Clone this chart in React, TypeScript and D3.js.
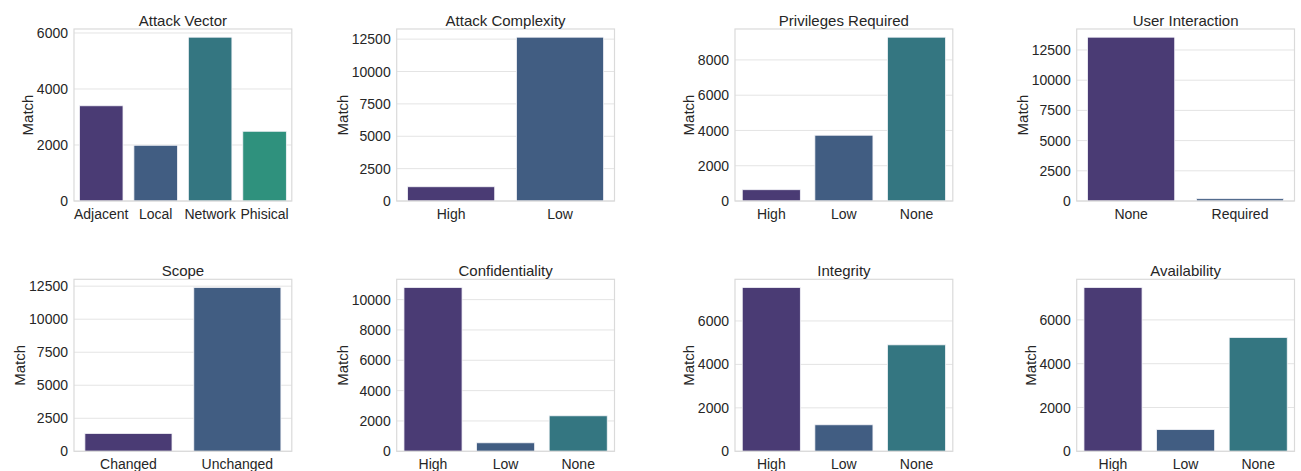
import { useEffect } from 'react'
import * as d3 from 'd3'

// CVSS metric counts
const attackVectorCats = ['Adjacent', 'Local', 'Network', 'Phisical']
const attackVectorValues = [3400, 1990, 5850, 2490]
const attackVectorTicks = [0, 2000, 4000, 6000]

const attackComplexityCats = ['High', 'Low']
const attackComplexityValues = [1100, 12650]
const attackComplexityTicks = [0, 2500, 5000, 7500, 10000, 12500]

const privilegesCats = ['High', 'Low', 'None']
const privilegesValues = [640, 3730, 9290]
const privilegesTicks = [0, 2000, 4000, 6000, 8000]

const userInteractionCats = ['None', 'Required']
const userInteractionValues = [13560, 190]
const userInteractionTicks = [0, 2500, 5000, 7500, 10000, 12500]

const scopeCats = ['Changed', 'Unchanged']
const scopeValues = [1350, 12400]
const scopeTicks = [0, 2500, 5000, 7500, 10000, 12500]

const confidentialityCats = ['High', 'Low', 'None']
const confidentialityValues = [10800, 560, 2340]
const confidentialityTicks = [0, 2000, 4000, 6000, 8000, 10000]

const integrityCats = ['High', 'Low', 'None']
const integrityValues = [7540, 1220, 4900]
const integrityTicks = [0, 2000, 4000, 6000]

const availabilityCats = ['High', 'Low', 'None']
const availabilityValues = [7480, 990, 5200]
const availabilityTicks = [0, 2000, 4000, 6000]

// seaborn viridis (desaturated 0.75)
const COLORS = ['#4a3b74', '#415d82', '#347681', '#2f917d']

const FONT = '"Liberation Sans", Arial, Helvetica, sans-serif'
const TEXT = '#262626'

const PANELS = [
  { title: 'Attack Vector', cats: attackVectorCats, values: attackVectorValues, ticks: attackVectorTicks },
  { title: 'Attack Complexity', cats: attackComplexityCats, values: attackComplexityValues, ticks: attackComplexityTicks },
  { title: 'Privileges Required', cats: privilegesCats, values: privilegesValues, ticks: privilegesTicks },
  { title: 'User Interaction', cats: userInteractionCats, values: userInteractionValues, ticks: userInteractionTicks },
  { title: 'Scope', cats: scopeCats, values: scopeValues, ticks: scopeTicks },
  { title: 'Confidentiality', cats: confidentialityCats, values: confidentialityValues, ticks: confidentialityTicks },
  { title: 'Integrity', cats: integrityCats, values: integrityValues, ticks: integrityTicks },
  { title: 'Availability', cats: availabilityCats, values: availabilityValues, ticks: availabilityTicks },
]

// axes placement (tight_layout result)
const COL_LEFT = [74, 396.7, 735, 1076.7]
const AX_W = 217.8
const ROW_TOP = [29, 279.3]
const AX_H = 172

const Panel = ({ p, i }: { p: typeof PANELS[number]; i: number }) => {
  const left = COL_LEFT[i % 4]
  const top = ROW_TOP[Math.floor(i / 4)]
  const x = d3.scaleBand<string>().domain(p.cats).range([0, AX_W]).paddingInner(0.2).paddingOuter(0.1)
  const y = d3.scaleLinear().domain([0, (d3.max(p.values) || 1) * 1.05]).range([AX_H, 0])
  const maxLen = d3.max(p.ticks, t => String(t).length) || 1
  const labelX = -6 - maxLen * 7.78 - 4

  return (
    <g transform={`translate(${left},${top})`}>
      {p.ticks.map(t => (
        <line key={t} x1={0} x2={AX_W} y1={y(t)} y2={y(t)} stroke="#e4e4e4" strokeWidth={1} />
      ))}
      {p.cats.map((c, j) => (
        <rect
          key={c}
          x={x(c)}
          y={y(p.values[j])}
          width={x.bandwidth()}
          height={AX_H - y(p.values[j])}
          fill={COLORS[j]}
          stroke="#f4f4f8"
          strokeWidth={0.8}
        />
      ))}
      <rect x={0} y={0} width={AX_W} height={AX_H} fill="none" stroke="#dadada" strokeWidth={1.2} />
      {p.ticks.map(t => (
        <text key={t} x={-6} y={y(t)} dy="0.36em" textAnchor="end" fontSize={14} fill={TEXT}>
          {t}
        </text>
      ))}
      {p.cats.map(c => (
        <text key={c} x={(x(c) || 0) + x.bandwidth() / 2} y={AX_H + 17.5} textAnchor="middle" fontSize={14} fill={TEXT}>
          {c}
        </text>
      ))}
      <text x={AX_W / 2} y={-3} textAnchor="middle" fontSize={15} fill={TEXT}>
        {p.title}
      </text>
      <text transform={`translate(${labelX},${AX_H / 2}) rotate(-90)`} textAnchor="middle" fontSize={15} fill={TEXT}>
        Match
      </text>
    </g>
  )
}

const App = () => {
  useEffect(() => {
    document.body.style.margin = '0'
  }, [])

  return (
    <svg width={1301} height={471} style={{ display: 'block', background: '#fff', fontFamily: FONT }}>
      {PANELS.map((p, i) => (
        <Panel key={p.title} p={p} i={i} />
      ))}
    </svg>
  )
}

export default App
